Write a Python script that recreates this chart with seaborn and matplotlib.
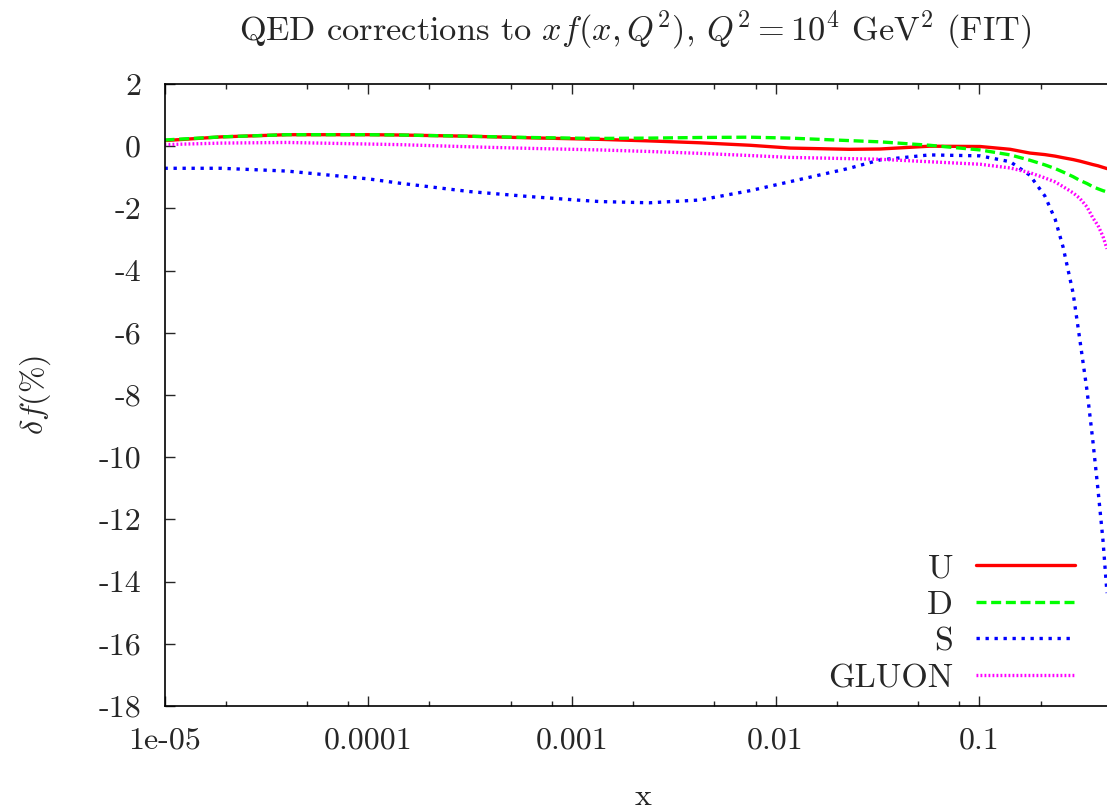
import numpy as np
import pandas as pd
import matplotlib
matplotlib.use("Agg")
import matplotlib.pyplot as plt
import matplotlib.ticker as mticker
import seaborn as sns

# ---- data ----
x_vals = [1.0e-5, 1.9e-5, 4.0e-5, 1.0e-4, 1.43e-4, 3.16e-4, 6.2e-4, 1.0e-3, 1.37e-3,
          2.4e-3, 4.25e-3, 7.5e-3, 1.18e-2, 2.3e-2, 3.26e-2, 5.7e-2, 0.101, 0.142,
          0.177, 0.210, 0.236, 0.258, 0.289, 0.312, 0.338, 0.361, 0.383, 0.405, 0.424]
u_vals = [0.18, 0.30, 0.37, 0.37, 0.36, 0.32, 0.27, 0.24, 0.22,
          0.17, 0.11, 0.03, -0.06, -0.10, -0.09, 0.00, -0.01, -0.10,
          -0.22, -0.27, -0.32, -0.37, -0.43, -0.48, -0.54, -0.59, -0.63, -0.68, -0.72]
d_vals = [0.20, 0.30, 0.37, 0.37, 0.36, 0.32, 0.28, 0.26, 0.25,
          0.26, 0.28, 0.29, 0.26, 0.18, 0.14, 0.03, -0.12, -0.28,
          -0.45, -0.60, -0.72, -0.83, -0.98, -1.10, -1.20, -1.30, -1.37, -1.43, -1.47]
s_vals = [-0.71, -0.71, -0.80, -1.05, -1.19, -1.46, -1.62, -1.72, -1.78,
          -1.82, -1.73, -1.43, -1.14, -0.71, -0.44, -0.28, -0.31, -0.50,
          -0.93, -1.60, -2.35, -3.24, -4.72, -6.23, -7.84, -9.45, -11.05, -12.66, -14.37]
g_vals = [0.05, 0.10, 0.12, 0.07, 0.05, -0.02, -0.07, -0.10, -0.12,
          -0.17, -0.23, -0.30, -0.36, -0.40, -0.42, -0.50, -0.58, -0.70,
          -0.85, -1.02, -1.15, -1.30, -1.50, -1.68, -1.95, -2.30, -2.55, -2.90, -3.30]

series_names = ["U", "D", "S", "GLUON"]
xtick_vals = [1e-5, 1e-4, 1e-3, 1e-2, 1e-1]
xtick_labels = ["1e-05", "0.0001", "0.001", "0.01", "0.1"]
ytick_vals = [2, 0, -2, -4, -6, -8, -10, -12, -14, -16, -18]
ytick_labels = ["2", "0", "-2", "-4", "-6", "-8", "-10", "-12", "-14", "-16", "-18"]

df = pd.concat([
    pd.DataFrame({"x": x_vals, "y": v, "series": n})
    for n, v in zip(series_names, [u_vals, d_vals, s_vals, g_vals])
], ignore_index=True)

sns.set_style("ticks")
plt.rcParams["font.family"] = ["cmr10", "DejaVu Serif"]
plt.rcParams["mathtext.fontset"] = "cm"
plt.rcParams["axes.unicode_minus"] = False
plt.rcParams["axes.formatter.use_mathtext"] = True

fig = plt.figure(figsize=(11.07, 8.11), dpi=100)
ax = fig.add_axes([164.5 / 1107, 1 - 706 / 811, 1 - 164.5 / 1107, (706 - 84) / 811])

palette = {"U": "#ff0000", "D": "#00ff00", "S": "#0000ff", "GLUON": "#ff00ff"}
dashes = {"U": "", "D": (3.0, 1.4), "S": (1.0, 1.7), "GLUON": (0.55, 0.65)}
sns.lineplot(data=df, x="x", y="y", hue="series", style="series",
             hue_order=series_names, style_order=series_names,
             palette=palette, dashes=dashes, linewidth=2.4, legend=False,
             estimator=None, sort=False, ax=ax)

ax.set_xscale("log")
ax.set_xlim(1e-5, 0.424)
ax.set_ylim(-18, 2)

ax.xaxis.set_major_locator(mticker.FixedLocator(xtick_vals))
ax.xaxis.set_major_formatter(mticker.FixedFormatter(xtick_labels))
ax.xaxis.set_minor_locator(mticker.LogLocator(base=10, subs=[2, 5, 8], numticks=20))
ax.xaxis.set_minor_formatter(mticker.NullFormatter())
ax.yaxis.set_major_locator(mticker.FixedLocator(ytick_vals))
ax.yaxis.set_major_formatter(mticker.FixedFormatter(ytick_labels))

for s in ["left", "bottom", "top"]:
    ax.spines[s].set_linewidth(1.2)
    ax.spines[s].set_color("black")
ax.spines["right"].set_visible(False)

ax.tick_params(axis="x", which="major", direction="in", length=7.5, width=1.0,
               top=True, bottom=True, labelsize=23, pad=15)
ax.tick_params(axis="x", which="minor", direction="in", length=3.8, width=1.0,
               top=True, bottom=True)
ax.tick_params(axis="y", which="major", direction="in", length=7.5, width=1.0,
               left=True, right=False, labelsize=23, pad=17)

ax.set_xlabel("x", fontsize=23)
ax.xaxis.set_label_coords(0.508, -0.146)
ax.xaxis.label.set_va("center")
ax.set_ylabel(r"$\delta f (\%)$", fontsize=23)
ax.yaxis.set_label_coords((35 - 164.5) / (1107 - 164.5), 0.5)
ax.yaxis.label.set_va("center")

fig.text(635 / 1107, 1 - 30 / 811,
         r"QED corrections to $xf(x,Q^2)$, $Q^2 = 10^4$ GeV$^2$ (FIT)",
         ha="center", va="center", fontsize=24.7)

leg = ax.legend(ax.lines[:4], series_names, loc="lower right",
                bbox_to_anchor=(1075 / 1107, 1 - 693 / 811),
                bbox_transform=fig.transFigure, frameon=False,
                markerfirst=False, fontsize=24.5, handlelength=2.9,
                handletextpad=0.68, labelspacing=0.2, borderpad=0,
                borderaxespad=0)

fig.savefig("out.png", dpi=100)
